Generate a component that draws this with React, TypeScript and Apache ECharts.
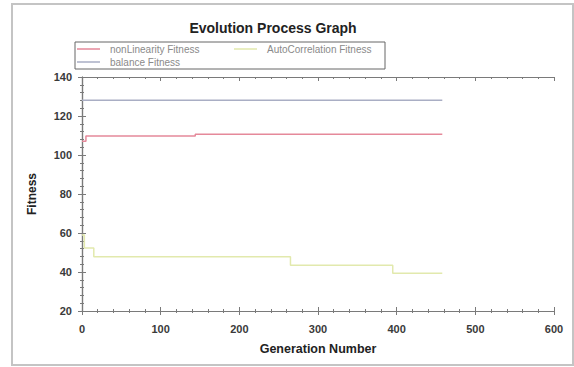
import React, { useEffect, useRef } from "react";
import * as echarts from "echarts";

const nonLinearity: [number, number][] = [
  [0, 107], [5, 109.7], [144, 110.6], [458, 110.6],
];
const autoCorrelation: [number, number][] = [
  [0, 59], [3, 52.3], [15, 47.8], [265, 43.5], [395, 39.4], [458, 39.4],
];
const balance: [number, number][] = [
  [0, 128.1], [458, 128.1],
];
const seriesNames = ["nonLinearity Fitness", "AutoCorrelation Fitness", "balance Fitness"];
const seriesColors = ["#e5899a", "#e2e9ad", "#a9aec4"];

export default function App() {
  const ref = useRef<HTMLDivElement>(null);
  useEffect(() => {
    if (!ref.current) return;
    const chart = echarts.init(ref.current, undefined, { renderer: "svg" });
    const font = "Liberation Sans, Arial, sans-serif";
    const tickColor = "#7a7a7a";
    const axisLine = { show: true, lineStyle: { color: tickColor, width: 1.2 } };
    const legendBase = {
      orient: "horizontal" as const,
      icon: "rect",
      itemWidth: 23,
      itemHeight: 1.5,
      textStyle: { color: "#8a8a8a", fontSize: 10, fontFamily: font, padding: [0, 0, 0, 5] },
      padding: 0,
    };
    const legendItem = (i: number) => ({ name: seriesNames[i], itemStyle: { color: seriesColors[i], borderWidth: 0 } });
    const xCommon = { type: "value" as const, min: 0, max: 600, interval: 100, splitLine: { show: false } };
    const yCommon = { type: "value" as const, min: 20, max: 140, interval: 20, splitLine: { show: false } };
    const ticksOut = {
      axisTick: { show: true, length: 4, lineStyle: { color: tickColor } },
      minorTick: { show: true, splitNumber: 5, length: 2, lineStyle: { color: tickColor } },
    };
    const ticksIn = {
      axisTick: { show: true, inside: true, length: 4, lineStyle: { color: tickColor } },
      minorTick: { show: true, splitNumber: 5, length: 2, lineStyle: { color: tickColor } },
    };
    const labelStyle = { fontSize: 11, fontWeight: "bold" as const, color: "#3a3a3a", fontFamily: font };
    chart.setOption({
      animation: false,
      backgroundColor: "#ffffff",
      title: {
        text: "Evolution Process Graph",
        left: 268,
        top: 16,
        textAlign: "center",
        textStyle: { fontSize: 14, fontWeight: "bold", color: "#222", fontFamily: font },
      },
      legend: [
        { ...legendBase, data: [legendItem(0)], left: 77, top: 44 },
        { ...legendBase, data: [legendItem(1)], left: 234, top: 44 },
        { ...legendBase, data: [legendItem(2)], left: 77, top: 57 },
      ],
      grid: { left: 82, right: 20, top: 77, bottom: 56, containLabel: false },
      xAxis: [
        {
          ...xCommon,
          name: "Generation Number", nameLocation: "middle", nameGap: 31,
          nameTextStyle: { fontSize: 12.5, fontWeight: "bold", color: "#222", fontFamily: font },
          axisLine, ...ticksOut,
          axisLabel: { ...labelStyle, margin: 12 },
        },
        { ...xCommon, position: "bottom", axisLine: { show: false }, ...ticksIn, axisLabel: { show: false } },
        { ...xCommon, position: "top", axisLine, ...ticksIn, axisLabel: { show: false } },
      ],
      yAxis: [
        {
          ...yCommon,
          name: "Fitness", nameLocation: "middle", nameGap: 44, nameRotate: 90,
          nameTextStyle: { fontSize: 12, fontWeight: "bold", color: "#222", fontFamily: font },
          axisLine, ...ticksOut,
          axisLabel: { ...labelStyle, margin: 10 },
        },
        { ...yCommon, position: "left", axisLine: { show: false }, ...ticksIn, axisLabel: { show: false } },
        { ...yCommon, position: "right", axisLine, ...ticksIn, axisLabel: { show: false } },
      ],
      series: [
        { name: seriesNames[0], type: "line", step: "end", data: nonLinearity, symbol: "none", color: seriesColors[0], lineStyle: { width: 1.5, color: seriesColors[0] } },
        { name: seriesNames[1], type: "line", step: "end", data: autoCorrelation, symbol: "none", color: seriesColors[1], lineStyle: { width: 1.5, color: seriesColors[1] } },
        { name: seriesNames[2], type: "line", step: "end", data: balance, symbol: "none", color: seriesColors[2], lineStyle: { width: 1.5, color: seriesColors[2] } },
      ],
      graphic: [
        { type: "rect", shape: { x: 12, y: 4, width: 561, height: 361 }, style: { fill: "none", stroke: "#c4c4c4", lineWidth: 2 }, silent: true },
        { type: "rect", shape: { x: 75, y: 42, width: 310, height: 27 }, style: { fill: "none", stroke: "#666", lineWidth: 1 }, silent: true },
      ],
    });
    return () => chart.dispose();
  }, []);
  return <div ref={ref} style={{ position: "absolute", left: 0, top: 0, width: 574, height: 367 }} />;
}
